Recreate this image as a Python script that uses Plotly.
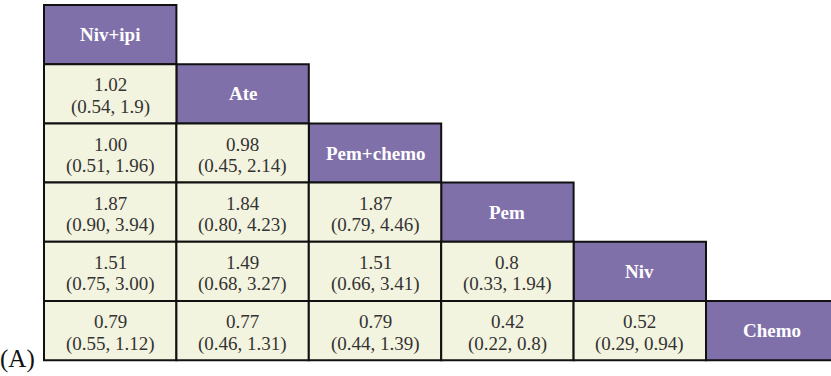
import plotly.graph_objects as go

# Treatments (diagonal of the league table)
treatments = ["Niv+ipi", "Ate", "Pem+chemo", "Pem", "Niv", "Chemo"]

# Pairwise estimates below the diagonal: row treatment vs column treatment
estimates = [
    [],
    ["1.02"],
    ["1.00", "0.98"],
    ["1.87", "1.84", "1.87"],
    ["1.51", "1.49", "1.51", "0.8"],
    ["0.79", "0.77", "0.79", "0.42", "0.52"],
]
lower_ci = [
    [],
    ["0.54"],
    ["0.51", "0.45"],
    ["0.90", "0.80", "0.79"],
    ["0.75", "0.68", "0.66", "0.33"],
    ["0.55", "0.46", "0.44", "0.22", "0.29"],
]
upper_ci = [
    [],
    ["1.9"],
    ["1.96", "2.14"],
    ["3.94", "4.23", "4.46"],
    ["3.00", "3.27", "3.41", "1.94"],
    ["1.12", "1.31", "1.39", "0.8", "0.94"],
]

panel_label = "(A)"

HEADER_FILL = "#7F70AA"
CELL_FILL = "#F3F4DF"
BORDER = "#111111"
TEXT = "#333333"
SERIF = "Liberation Serif, Times New Roman, serif"

W, H = 831, 376
left_px, top_px = 44, 5
col_px, row_px = 132.4, 59.2

fig = go.Figure()
shapes = []
annotations = []

n = len(treatments)
for i in range(n):
    # diagonal header cell
    shapes.append(dict(type="rect", xref="x", yref="y", x0=i, x1=i + 1, y0=i, y1=i + 1,
                       fillcolor=HEADER_FILL, line=dict(color=BORDER, width=2), layer="below"))
    annotations.append(dict(x=i + 0.5, y=i + 0.5, xref="x", yref="y", text=f"<b>{treatments[i]}</b>",
                            showarrow=False, font=dict(family=SERIF, size=19, color="white"),
                            xanchor="center", yanchor="middle"))
    for j in range(i):
        shapes.append(dict(type="rect", xref="x", yref="y", x0=j, x1=j + 1, y0=i, y1=i + 1,
                           fillcolor=CELL_FILL, line=dict(color=BORDER, width=2), layer="below"))
        annotations.append(dict(x=j + 0.5, y=i + 0.5, xref="x", yref="y", text=estimates[i][j],
                                showarrow=False, font=dict(family=SERIF, size=19, color=TEXT),
                                xanchor="center", yanchor="middle", yshift=9))
        annotations.append(dict(x=j + 0.5, y=i + 0.5, xref="x", yref="y",
                                text=f"({lower_ci[i][j]}, {upper_ci[i][j]})",
                                showarrow=False, font=dict(family=SERIF, size=19, color=TEXT),
                                xanchor="center", yanchor="middle", yshift=-13))

annotations.append(dict(x=0, y=(H - 359) / H, xref="paper", yref="paper", text=panel_label,
                        showarrow=False, font=dict(family=SERIF, size=25, color="#111111"),
                        xanchor="left", yanchor="middle", xshift=-2))

# invisible trace so the axes are drawn
fig.add_trace(go.Scatter(x=[0, n], y=[0, n], mode="markers", marker=dict(opacity=0),
                         hoverinfo="skip", showlegend=False))

fig.update_layout(
    width=W, height=H,
    margin=dict(l=0, r=0, t=0, b=0),
    paper_bgcolor="white", plot_bgcolor="white",
    shapes=shapes, annotations=annotations,
    xaxis=dict(range=[-left_px / col_px, (W - left_px) / col_px], visible=False, fixedrange=True),
    yaxis=dict(range=[(H - top_px) / row_px, -top_px / row_px], visible=False, fixedrange=True),
)

fig.write_html("out.html")
